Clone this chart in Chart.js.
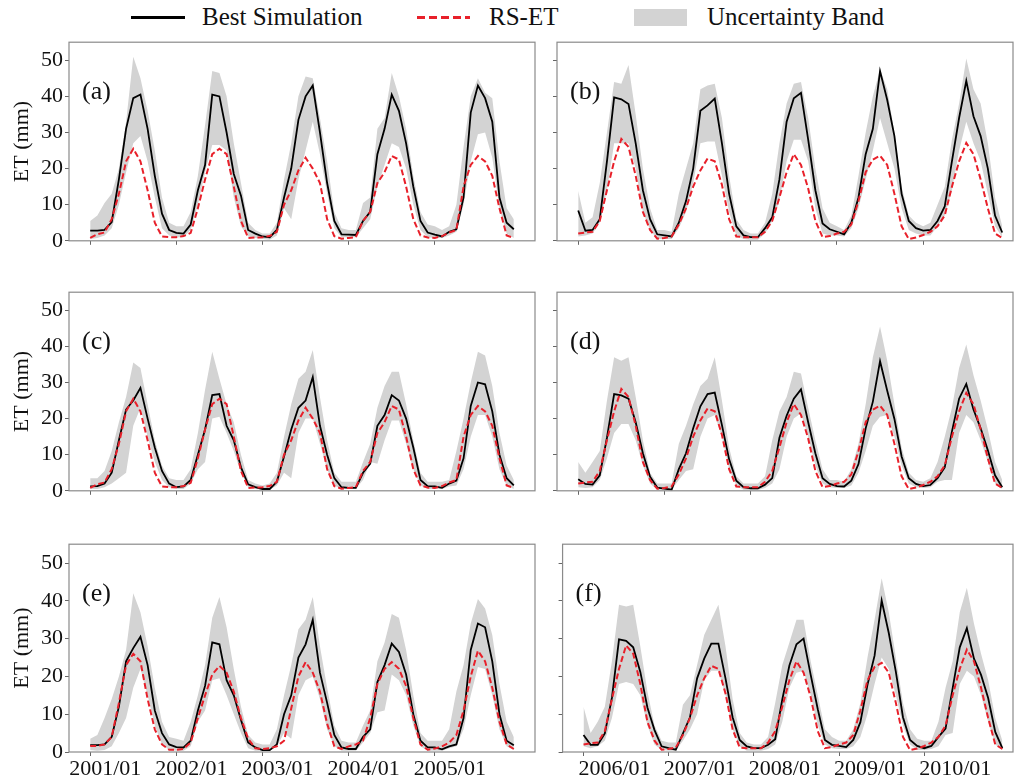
<!DOCTYPE html>
<html>
<head>
<meta charset="utf-8">
<script src="https://cdn.jsdelivr.net/npm/chart.js@4.4.1/dist/chart.umd.min.js"></script>
<style>
  html, body { margin: 0; padding: 0; background: #fff; }
  #page { position: relative; width: 1014px; height: 778px; overflow: hidden;
          font-family: "Liberation Serif", "Times New Roman", serif; color: #111; }
  .panel { position: absolute; }
  .legend-text { position: absolute; top: 3px; font-size: 25px; line-height: 28px; white-space: nowrap; }
</style>
</head>
<body>
<div id="page">
  <div style="position:absolute;left:131px;top:16px;width:54px;height:2.5px;background:#000"></div>
  <div class="legend-text" style="left:202px">Best Simulation</div>
  <div style="position:absolute;left:417px;top:16px;width:53px;height:2.5px;background:repeating-linear-gradient(to right,#e8202a 0 8px,transparent 8px 12px)"></div>
  <div class="legend-text" style="left:489px">RS-ET</div>
  <div style="position:absolute;left:634px;top:9px;width:53px;height:17px;background:#d3d3d3"></div>
  <div class="legend-text" style="left:707px">Uncertainty Band</div>
</div>
<script>
// month index 0..59 in every panel, tick every January
const xTickIdx = [0, 12, 24, 36, 48];
const xLabelsLeft = ["2001/01", "2002/01", "2003/01", "2004/01", "2005/01"];
const xLabelsRight = ["2006/01", "2007/01", "2008/01", "2009/01", "2010/01"];
const yTicks = [0, 10, 20, 30, 40, 50];

// RS-ET (observed)
const rsLeft = [0.8,1.8,2.3,6,13,22,25.5,22,14,5,1.2,1.0, 1.0,1.3,2.2,9,17,24,25.5,24,15,5.5,0.8,0.9,
  1.0,1.3,2.5,10,14,19.5,23,20,16,6,1.3,0.6, 0.8,1.0,5.5,8,16,19,23.5,22.5,15,6,1.5,0.9,
  0.8,1.3,2.3,3,15,21,23.5,22,18,9,1.5,0.8];
const rsE = [1.6,1.6,2,4,13,23,26,24,14,6,2,0.6, 0.6,0.8,2.5,9,15,20.5,22.8,21,16,9,3.5,1,
  0.8,1,1.5,3,11.5,20,23.8,21,16,7.5,1.5,0.8, 1.5,2,3,9,18,22,23.8,22,17.5,9,2,0.6,
  0.9,1.5,2.5,4.5,11,20,26.8,24,17,8,2,0.8];
const rsRight = [2.0,2.3,2.5,5.5,14,22,28.2,26,18,8,3,0.6, 0.8,1.2,4.5,9,15,19.5,22.8,22,15.5,6,1.2,1.0,
  1.0,1.0,2.5,5.5,12,19,24,21,14.5,5.5,1.0,1.3, 2.0,2.5,4.5,11,19,22.5,23.6,21,13,4,0.5,0.9,
  1.6,2.5,4,7,15,22,27.1,24,17,9,2,0.8];

// best simulation
const bestA = [2.8,2.8,3.0,5.2,17,31,39.5,40.5,31,18,7.5,3, 2.2,2.0,4.5,14,21,40.5,40,30,18.5,12.5,3,2,
  1.2,1.0,3,12,20,33.5,40,43,30,16,5.5,1.8, 1.7,1.6,5.5,8,24,31,40.5,36,27,15,5.5,2.3,
  1.7,1.2,2.5,3.2,12,35.5,43,39.5,33,12,5,3.2];
const bestB = [8.4,2.8,3.0,6.0,22,39.7,39.2,37.9,27,14,6,1.8, 1.5,1.2,5,11,20,36,37.5,39.4,27,13,4,1.5,
  1.0,1.0,3.5,6.5,17,33,39.5,41,28,14,4.8,3.2, 2.5,1.8,5,12,24,31,47,39,29,13,5.5,3.5,
  2.8,3.0,5.5,9.5,22,34,44.3,34.5,29,20,7,2.3];
const bestC = [1.2,1.3,2,5,14,22.5,25,28.5,20,12,5.5,2, 1.0,1.2,3,10,17,26.5,26.8,18,14,6.5,1.8,1.0,
  0.5,0.5,2.5,9.5,17,23,25,31.5,18,10,3.5,1.0, 0.8,0.8,5,7.5,18,21,26.5,25,20,12,3,1.3,
  1.2,0.8,2,2.8,9,23.5,30,29.5,22,10,3.5,1.5];
const bestD = [3.2,1.9,1.7,4.3,14.7,26.8,26.4,25.5,19,10.4,3.9,0.9, 0.6,0.3,6,10.4,17.3,23.4,26.8,27.2,18.2,8.7,2.8,1.0,
  0.7,0.7,1.7,3.5,14.7,20.8,25.5,28.1,19,10.4,3.5,1.9, 1.3,1.2,2.8,7.4,17.3,24.7,35.9,27.7,19.9,9.5,3.5,1.9,
  1.3,1.6,3.5,6.5,16.4,25.5,29.6,22.5,17.3,11.2,4.3,1.0];
const bestE = [1.8,1.8,2,4,12,24,27.5,30.5,23,11,5,2, 1.3,1.2,3,11,17.5,29,28.5,19,15,8.5,2.5,1.2,
  0.5,0.5,2,10,15,25,28.5,35,21,13,4.5,1.2, 0.8,0.8,4,6,18.5,23,28.7,26.5,20.5,10,3,1.2,
  1.2,0.7,1.5,2,9,27,34,33,24,10,3,1.8];
const bestF = [4.5,1.9,1.9,4.9,14.3,29.8,29.4,27.7,21.2,11.8,5.8,1.5, 1.0,0.6,4.9,9.2,19.5,24.7,28.7,28.7,19.5,9.2,3.2,1.5,
  1.0,1.0,1.9,3.4,13.9,22.9,28.5,30,20.4,11.3,3.2,1.9, 1.6,1.3,3.2,7.9,17.8,25.5,40.1,31.5,21.2,9.2,3.2,1.6,
  1.0,1.6,4.0,6.2,16.9,27.7,32.8,24.7,20.4,14.3,5.3,1.0];

// uncertainty band, upper and lower edges
const upperA = [5.5,7,10.5,13,20,33,51,45,36,25,12,5, 4,4,8,18,32,47,46.5,40,27,16,5,3,
  2,2,5,17,27,40,45.5,45,34,22,8,3.5, 3,3,10.5,12,31,34,46.5,40,31,18,8,4.5,
  4,3,4,10,26,40,45,41,39.5,22,9,6];
const lowerA = [0.5,0.8,1.5,3.5,10,19,27,29,22,12,3.5,1.5, 1,1,3,10,19,26.5,26.5,25,12,4,1.2,0.8,
  0.5,0.3,1.5,9,6,17,25,33,24,13,3.5,1, 1,1,3.5,6,15,21,27,26,20,10,3,1,
  0.8,0.8,1.5,2.5,10,22,29.5,30,23,9,2,0.8];
const upperB = [13.8,5,6.5,16,30,44,43.5,48.7,35,20,9,3, 3,2.5,13,20,27,42,43,43.5,34,18,6,3,
  2,2,5,13,27,38,43.5,44,34,20,9,5, 4,3,7,18,30,40,47.5,42,30,15,7,5,
  4,5,10,15,28,38,50.5,42,38,27,12,4];
const lowerB = [1.2,1.5,2,5,14,27,27,27,20,8,3,0.5, 0.5,0.5,3.5,8,16,27,27.5,27.5,18,8,1.5,0.5,
  0.3,0.3,2,5.5,11,22,28,28,22,9,2,1.5, 1.5,1.2,3.5,9,17,25,34,27,20,9,3,2,
  1.5,1.5,4,7,14,25,33,27,22,13,4,1];
const upperC = [3.5,3.5,5.5,11,19,26,35.5,34,24,14,7,3.5, 3,3,6,16,28,38.5,31,24,19,10,3,2,
  1.5,2,5,15,24,31,33,39,26,14,5,2.5, 2.5,2.5,8,13,23,29,33,33,24,14,5,2.5,
  2.5,2.5,3,11,20,30,38.5,37.5,29,16,7,3];
const lowerC = [0.5,0.5,1,2,3.5,5,18,23,15,8,3,1, 0.5,0.5,2,6,8,20,20.5,16,11,5,1,0.5,
  0.3,0.3,1.5,5,3.5,16,20,20,13,6,1.5,0.5, 0.5,0.5,3,8,7.5,14,19.5,19.5,13,6,1.5,0.5,
  0.5,0.5,1.2,1.5,6,15,21,21,15,6,1.5,0.5];
const upperD = [8,5,8,11,25,37,36,37,26,14,5,2, 2,2,13,18,24,29,31,37,25,12,4,2,
  2,2,4,14,22,26,33,32.5,23,14,6,3, 3,2.5,6,13,24,37,45.5,36,24,12,5,3,
  2.5,3.5,8,15,23,34,40.5,32,25,17,8,3];
const lowerD = [1.0,0.8,1,3,9,16,18.5,18.5,14,7,2,0.3, 0.3,0.3,3,5.5,6,15,20,21,15,6,1.5,0.3,
  0.2,0.2,0.8,2,6,15,20,21.5,15,7,2,1, 0.8,0.8,1.5,5,11,18,20.5,21,15,7,2,1,
  0.8,1,2.5,3,3,16,21,19,14,8,2,0.5];
const upperE = [3.5,4.5,9,14,20,27,42,37,28,17,8,4, 3.5,3,8,15,23,35.5,41,33,22,12,4.5,2.5,
  2,2,6,15,23,32.5,35,41,28,17,7,3, 2.5,2.5,7,11,24,29,36.5,35.5,27,15,5,3,
  3,3,6,16,23,34,40.5,38,31,18,8,4];
const lowerE = [0.5,0.3,0.5,1.5,5,9,17,22,15,7,2,0.5, 0.3,0.3,1.5,8,11,19,19.5,15,10,5,1,0.3,
  0.3,0.3,1.5,5,3.5,15,19,20,14,6,1.5,0.3, 0.3,0.3,2.5,5,10.5,11,20.5,19,15,7,1.5,0.3,
  0.3,0.3,1,1.5,6,15,22.5,22,15,6,1.5,0.5];
const upperF = [12,5,8,12,24,39,38.5,39,28,16,7,3, 2.5,2.5,12.5,15,23,31,35,39,28,14,5,2.5,
  2,2,4,13,23,29,35,35,24,15,6,4, 3,3,6,13,25,35,46,37,25,13,6,3.5,
  3,3,8,17,24,37,43.5,34,26,19,9,3];
const lowerF = [1.5,1,1.5,3,9,18,18.5,18,15,7,2,0.5, 0.3,0.3,3,6,10,19,21.5,21.5,15,6,1.5,0.3,
  0.3,0.3,0.8,2,8,17,21,21.5,15,7,2,1, 0.8,0.8,1.5,4,10,18,25,22,15,7,2,0.5,
  0.5,0.8,1.5,4.5,5,18,21.5,20,15,8,2,0.5];

const panels = [
  { tag: "(a)", row: 0, col: 0, best: bestA, rs: rsLeft, upper: upperA, lower: lowerA },
  { tag: "(b)", row: 0, col: 1, best: bestB, rs: rsRight, upper: upperB, lower: lowerB },
  { tag: "(c)", row: 1, col: 0, best: bestC, rs: rsLeft, upper: upperC, lower: lowerC },
  { tag: "(d)", row: 1, col: 1, best: bestD, rs: rsRight, upper: upperD, lower: lowerD },
  { tag: "(e)", row: 2, col: 0, best: bestE, rs: rsE, upper: upperE, lower: lowerE },
  { tag: "(f)", row: 2, col: 1, best: bestF, rs: rsRight, upper: upperF, lower: lowerF },
];

const rowTops = [37, 287, 539];
const serif = "'Liberation Serif', 'Times New Roman', serif";
const red = "#e8202a";
const bandGrey = "#d3d3d3";
const frameGrey = "#8a8a8a";

const pts = (arr) => arr.map((v, i) => ({ x: i, y: v }));

// box around the plot area plus the (a)..(f) tag
const framePlugin = {
  id: "panelFrame",
  afterDraw(chart, args, opts) {
    const { ctx, chartArea: a } = chart;
    ctx.save();
    ctx.strokeStyle = frameGrey;
    ctx.lineWidth = 1.2;
    ctx.strokeRect(a.left, a.top, a.right - a.left, a.bottom - a.top);
    ctx.fillStyle = "#111";
    ctx.font = "26px " + serif;
    ctx.textBaseline = "middle";
    ctx.fillText(opts.tag, a.left + 13, a.top + 50);
    ctx.restore();
  },
};

const page = document.getElementById("page");

function makePanel(p) {
  const isLeft = p.col === 0;
  const isBottom = p.row === 2;
  const w = isLeft ? 537 : 467;
  const h = 10 + 213 + (isBottom ? 26 : 6);
  const div = document.createElement("div");
  div.className = "panel";
  div.style.left = (isLeft ? 0 : 547) + "px";
  div.style.top = (rowTops[p.row] - 10) + "px";
  div.style.width = w + "px";
  div.style.height = h + "px";
  const canvas = document.createElement("canvas");
  canvas.width = w;
  canvas.height = h;
  div.appendChild(canvas);
  page.appendChild(div);

  const xLabels = isLeft ? xLabelsLeft : xLabelsRight;

  new Chart(canvas, {
    type: "line",
    data: {
      datasets: [
        { label: "RS-ET", data: pts(p.rs), borderColor: red, borderWidth: 2, borderDash: [6, 3],
          pointRadius: 0, tension: 0, fill: false },
        { label: "Best Simulation", data: pts(p.best), borderColor: "#000", borderWidth: 1.8,
          pointRadius: 0, tension: 0, fill: false },
        { label: "Uncertainty Band", data: pts(p.upper), borderWidth: 0, borderColor: "rgba(0,0,0,0)",
          backgroundColor: bandGrey, pointRadius: 0, tension: 0, fill: "+1" },
        { label: "lower", data: pts(p.lower), borderWidth: 0, borderColor: "rgba(0,0,0,0)",
          pointRadius: 0, tension: 0, fill: false },
      ],
    },
    options: {
      responsive: false,
      animation: false,
      layout: { padding: { top: 10, right: isLeft ? 2 : 1, left: 0, bottom: 0 } },
      plugins: {
        legend: { display: false },
        tooltip: { enabled: false },
        panelFrame: { tag: p.tag },
      },
      scales: {
        x: {
          type: "linear",
          min: -2.95,
          max: isLeft ? 61.95 : 60.5,
          afterBuildTicks: (s) => { s.ticks = xTickIdx.map((v) => ({ value: v })); },
          afterFit: (s) => { s.height = isBottom ? 26 : 6; },
          border: { display: false },
          grid: { drawOnChartArea: false, drawTicks: true, tickLength: 4, color: "#666" },
          ticks: {
            autoSkip: false, maxRotation: 0, padding: 0, labelOffset: isLeft ? 15 : 31,
            color: "#111", font: { family: serif, size: 22 },
            callback: (v, i) => (isBottom ? xLabels[i] : ""),
          },
        },
        y: {
          min: 0,
          max: 55,
          afterBuildTicks: (s) => { s.ticks = yTicks.map((v) => ({ value: v })); },
          afterFit: (s) => { s.width = isLeft ? 69 : 10; },
          border: { display: false },
          grid: { drawOnChartArea: false, drawTicks: true, tickLength: 4, color: "#666" },
          ticks: {
            padding: 2, color: "#111", font: { family: serif, size: 22 },
            callback: (v) => (isLeft ? String(v) : ""),
          },
          title: {
            display: isLeft, text: "ET (mm)", color: "#111",
            font: { family: serif, size: 22 }, padding: { top: 9, bottom: 0 },
          },
        },
      },
    },
    plugins: [framePlugin],
  });
}

panels.forEach(makePanel);
</script>
</body>
</html>
